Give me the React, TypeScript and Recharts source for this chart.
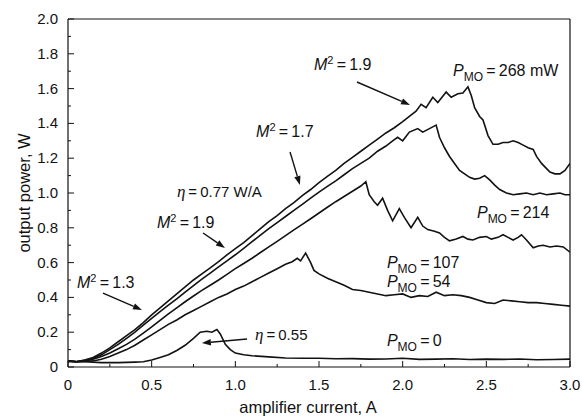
import React from "react";
import {
  LineChart,
  Line,
  XAxis,
  YAxis,
  ReferenceLine,
  ReferenceDot,
  Label,
} from "recharts";

// ticks
const xTicks = [0, 0.25, 0.5, 0.75, 1, 1.25, 1.5, 1.75, 2, 2.25, 2.5, 2.75, 3];
const yTicks = [
  0, 0.1, 0.2, 0.3, 0.4, 0.5, 0.6, 0.7, 0.8, 0.9, 1, 1.1, 1.2, 1.3, 1.4, 1.5,
  1.6, 1.7, 1.8, 1.9, 2,
];

// [amplifier current A, output power W]
const pmo0 = [
  [0, 0.035], [0.05, 0.03], [0.1, 0.03], [0.2, 0.025], [0.3, 0.025], [0.4, 0.028],
  [0.45, 0.03], [0.5, 0.04], [0.55, 0.055], [0.6, 0.07], [0.65, 0.095], [0.7, 0.125],
  [0.75, 0.165], [0.79, 0.2], [0.83, 0.205], [0.86, 0.2], [0.89, 0.215], [0.91, 0.19],
  [0.94, 0.13], [0.97, 0.1], [1.0, 0.08], [1.05, 0.07], [1.1, 0.065], [1.2, 0.058],
  [1.3, 0.052], [1.4, 0.05], [1.5, 0.05], [1.6, 0.047], [1.7, 0.048], [1.8, 0.045],
  [1.9, 0.046], [2.0, 0.05], [2.1, 0.044], [2.2, 0.045], [2.3, 0.047], [2.4, 0.043],
  [2.5, 0.045], [2.6, 0.044], [2.7, 0.046], [2.8, 0.042], [2.9, 0.043], [3.0, 0.045],
];

const pmo54 = [
  [0, 0.035], [0.05, 0.03], [0.1, 0.032], [0.15, 0.035], [0.2, 0.045], [0.25, 0.06],
  [0.3, 0.08], [0.35, 0.1], [0.4, 0.125], [0.45, 0.155], [0.5, 0.185], [0.55, 0.215],
  [0.6, 0.245], [0.65, 0.27], [0.7, 0.3], [0.75, 0.325], [0.8, 0.35], [0.85, 0.375],
  [0.9, 0.4], [0.95, 0.42], [1.0, 0.445], [1.05, 0.465], [1.1, 0.49], [1.15, 0.515],
  [1.2, 0.54], [1.25, 0.565], [1.3, 0.59], [1.34, 0.605], [1.37, 0.625], [1.39, 0.61],
  [1.42, 0.655], [1.45, 0.6], [1.47, 0.555], [1.5, 0.535], [1.55, 0.51], [1.6, 0.49],
  [1.65, 0.47], [1.7, 0.445], [1.75, 0.44], [1.8, 0.43], [1.85, 0.42], [1.9, 0.41],
  [1.95, 0.415], [2.0, 0.42], [2.05, 0.4], [2.1, 0.41], [2.15, 0.405], [2.2, 0.43],
  [2.25, 0.41], [2.3, 0.415], [2.35, 0.41], [2.4, 0.4], [2.45, 0.385], [2.5, 0.37],
  [2.55, 0.365], [2.6, 0.385], [2.65, 0.38], [2.7, 0.375], [2.75, 0.37], [2.8, 0.37],
  [2.85, 0.365], [2.9, 0.36], [2.95, 0.355], [3.0, 0.35],
];

const pmo107 = [
  [0, 0.03], [0.05, 0.03], [0.1, 0.035], [0.15, 0.045], [0.2, 0.06], [0.25, 0.08],
  [0.3, 0.105], [0.35, 0.13], [0.4, 0.16], [0.45, 0.195], [0.5, 0.23], [0.55, 0.268],
  [0.6, 0.305], [0.65, 0.34], [0.7, 0.375], [0.75, 0.408], [0.8, 0.44], [0.85, 0.47],
  [0.9, 0.5], [0.95, 0.532], [1.0, 0.565], [1.05, 0.595], [1.1, 0.625], [1.15, 0.658],
  [1.2, 0.69], [1.25, 0.722], [1.3, 0.755], [1.35, 0.788], [1.4, 0.82], [1.45, 0.852],
  [1.5, 0.885], [1.55, 0.918], [1.6, 0.95], [1.65, 0.98], [1.7, 1.01], [1.75, 1.04],
  [1.78, 1.065], [1.8, 0.99], [1.83, 0.95], [1.85, 0.93], [1.88, 0.97], [1.91, 0.9],
  [1.94, 0.84], [1.98, 0.91], [2.01, 0.86], [2.05, 0.8], [2.09, 0.86], [2.12, 0.81],
  [2.15, 0.79], [2.19, 0.78], [2.22, 0.77], [2.25, 0.745], [2.28, 0.725], [2.32, 0.735],
  [2.36, 0.75], [2.39, 0.735], [2.42, 0.73], [2.46, 0.745], [2.5, 0.75], [2.53, 0.735],
  [2.57, 0.745], [2.6, 0.76], [2.63, 0.745], [2.66, 0.73], [2.69, 0.745], [2.71, 0.76],
  [2.74, 0.73], [2.78, 0.685], [2.81, 0.695], [2.84, 0.7], [2.88, 0.69], [2.92, 0.695],
  [2.96, 0.69], [3.0, 0.66],
];

const pmo214 = [
  [0, 0.035], [0.05, 0.032], [0.1, 0.038], [0.15, 0.05], [0.2, 0.07], [0.25, 0.1],
  [0.3, 0.13], [0.35, 0.165], [0.4, 0.2], [0.45, 0.24], [0.5, 0.28], [0.55, 0.318],
  [0.6, 0.355], [0.65, 0.392], [0.7, 0.43], [0.75, 0.468], [0.8, 0.505], [0.85, 0.54],
  [0.9, 0.575], [0.95, 0.61], [1.0, 0.645], [1.05, 0.682], [1.1, 0.72], [1.15, 0.758],
  [1.2, 0.795], [1.25, 0.83], [1.3, 0.865], [1.35, 0.9], [1.4, 0.935], [1.45, 0.97],
  [1.5, 1.005], [1.55, 1.038], [1.6, 1.07], [1.65, 1.105], [1.7, 1.14], [1.75, 1.17],
  [1.8, 1.2], [1.85, 1.24], [1.9, 1.27], [1.94, 1.3], [1.97, 1.32], [2.0, 1.3],
  [2.04, 1.35], [2.09, 1.37], [2.12, 1.35], [2.16, 1.37], [2.2, 1.39], [2.22, 1.32],
  [2.25, 1.26], [2.28, 1.21], [2.31, 1.17], [2.34, 1.13], [2.37, 1.11], [2.4, 1.09],
  [2.43, 1.08], [2.46, 1.085], [2.49, 1.1], [2.52, 1.075], [2.55, 1.045], [2.58, 1.02],
  [2.62, 1.0], [2.66, 0.99], [2.7, 0.995], [2.74, 1.0], [2.78, 0.99], [2.82, 1.0],
  [2.86, 0.99], [2.9, 0.995], [2.94, 1.0], [2.97, 0.99], [3.0, 0.99],
];

const pmo268 = [
  [0, 0.035], [0.05, 0.03], [0.1, 0.04], [0.15, 0.055], [0.2, 0.08], [0.25, 0.11],
  [0.3, 0.145], [0.35, 0.18], [0.4, 0.215], [0.45, 0.255], [0.5, 0.3], [0.55, 0.34],
  [0.6, 0.38], [0.65, 0.42], [0.7, 0.46], [0.75, 0.5], [0.8, 0.535], [0.85, 0.57],
  [0.9, 0.605], [0.95, 0.645], [1.0, 0.68], [1.05, 0.715], [1.1, 0.755], [1.15, 0.795],
  [1.2, 0.835], [1.25, 0.87], [1.3, 0.91], [1.35, 0.945], [1.4, 0.985], [1.45, 1.02],
  [1.5, 1.06], [1.55, 1.095], [1.6, 1.13], [1.65, 1.17], [1.7, 1.205], [1.75, 1.24],
  [1.8, 1.275], [1.85, 1.31], [1.9, 1.345], [1.95, 1.375], [2.0, 1.41], [2.04, 1.44],
  [2.08, 1.47], [2.11, 1.51], [2.14, 1.49], [2.18, 1.55], [2.21, 1.52], [2.26, 1.58],
  [2.29, 1.55], [2.33, 1.57], [2.36, 1.575], [2.39, 1.61], [2.41, 1.56], [2.43, 1.49],
  [2.46, 1.44], [2.48, 1.42], [2.51, 1.33], [2.54, 1.28], [2.57, 1.28], [2.6, 1.29],
  [2.63, 1.29], [2.66, 1.3], [2.69, 1.29], [2.72, 1.275], [2.75, 1.26], [2.78, 1.25],
  [2.8, 1.21], [2.83, 1.17], [2.86, 1.14], [2.88, 1.12], [2.91, 1.11], [2.94, 1.11],
  [2.97, 1.13], [3.0, 1.17],
];

// annotation text anchors (data coords) and arrows
const texts = [
  { kind: "m2", v: "1.9", x: 1.47, y: 1.707 },
  { kind: "m2", v: "1.7", x: 1.124, y: 1.322 },
  { kind: "eta", v: "0.77 W/A", x: 0.651, y: 0.977 },
  { kind: "m2", v: "1.9", x: 0.532, y: 0.799 },
  { kind: "m2", v: "1.3", x: 0.054, y: 0.454 },
  { kind: "eta", v: "0.55", x: 1.118, y: 0.155 },
  { kind: "pmo", v: "268 mW", x: 2.301, y: 1.672 },
  { kind: "pmo", v: "214", x: 2.444, y: 0.856 },
  { kind: "pmo", v: "107", x: 1.906, y: 0.568 },
  { kind: "pmo", v: "54", x: 1.906, y: 0.459 },
  { kind: "pmo", v: "0", x: 1.906, y: 0.12 },
];

const arrows = [
  [1.727, 1.638, 2.044, 1.506],
  [1.327, 1.236, 1.386, 1.046],
  [0.807, 0.77, 0.938, 0.684],
  [0.209, 0.425, 0.442, 0.328],
  [1.07, 0.161, 0.8, 0.138],
];

const series = [pmo0, pmo54, pmo107, pmo214, pmo268];

const INK = "#121212";
const FONT = '"Liberation Sans", Arial, Helvetica, sans-serif';

const rows = (pts: number[][]) => pts.map(([i, p]) => ({ i, p }));

const isMajorX = (v: number) => Math.abs(v * 2 - Math.round(v * 2)) < 1e-6;
const isMajorY = (v: number) => Math.abs(v * 5 - Math.round(v * 5)) < 1e-6;

const BottomTick = ({ x, y, payload }: any) => {
  const v = payload.value;
  const major = isMajorX(v);
  return (
    <g>
      <line x1={x} y1={y} x2={x} y2={y - (major ? 6 : 3)} stroke={INK} />
      {major && (
        <text x={x} y={y + 23} textAnchor="middle" fontSize={15} fill={INK} fontFamily={FONT}>
          {v === 0 ? "0" : v.toFixed(1)}
        </text>
      )}
    </g>
  );
};

const TopTick = ({ x, y, payload }: any) => (
  <line x1={x} y1={y} x2={x} y2={y + (isMajorX(payload.value) ? 6 : 3)} stroke={INK} />
);

const LeftTick = ({ x, y, payload }: any) => {
  const v = payload.value;
  const major = isMajorY(v);
  return (
    <g>
      <line x1={x} y1={y} x2={x + (major ? 6 : 3)} y2={y} stroke={INK} />
      {major && (
        <text x={x - 10} y={y + 5} textAnchor="end" fontSize={15} fill={INK} fontFamily={FONT}>
          {v === 0 ? "0" : v.toFixed(1)}
        </text>
      )}
    </g>
  );
};

const RightTick = ({ x, y, payload }: any) => (
  <line x1={x} y1={y} x2={x - (isMajorY(payload.value) ? 6 : 3)} y2={y} stroke={INK} />
);

const Arrow = (props: any) => {
  const { x1, y1, x2, y2 } = props;
  const a = Math.atan2(y2 - y1, x2 - x1);
  const c = Math.cos(a);
  const s = Math.sin(a);
  const L = 9;
  const W = 3.2;
  const bx = x2 - L * c;
  const by = y2 - L * s;
  return (
    <g>
      <line x1={x1} y1={y1} x2={bx} y2={by} stroke={INK} strokeWidth={1.4} />
      <polygon
        points={`${x2},${y2} ${bx - s * W},${by + c * W} ${bx + s * W},${by - c * W}`}
        fill={INK}
      />
    </g>
  );
};

const Note = ({ kind, v }: { kind: string; v: string }) => (props: any) => {
  const { cx, cy } = props;
  if (kind === "m2") {
    return (
      <text x={cx} y={cy} fontSize={16} fill={INK} fontFamily={FONT}>
        <tspan fontStyle="italic">M</tspan>
        <tspan fontSize={11} dy={-6}>2</tspan>
        <tspan dy={6}>{"\u2009=\u2009" + v}</tspan>
      </text>
    );
  }
  if (kind === "eta") {
    return (
      <text x={cx} y={cy} fontSize={15} fill={INK} fontFamily={FONT}>
        <tspan fontStyle="italic" fontFamily='"Liberation Serif", serif' fontSize={17}>
          η
        </tspan>
        <tspan>{"\u2009=\u2009" + v}</tspan>
      </text>
    );
  }
  return (
    <text x={cx} y={cy} fontSize={16} fill={INK} fontFamily={FONT}>
      <tspan fontStyle="italic" fontSize={16}>P</tspan>
      <tspan fontSize={12} dy={5}>MO</tspan>
      <tspan dy={-5}>{"\u2009=\u2009" + v}</tspan>
    </text>
  );
};

export default function App() {
  return (
    <div style={{ position: "absolute", left: 0, top: 0, background: "#fff" }}>
      <LineChart
        width={582}
        height={420}
        margin={{ top: 18, right: 0, bottom: 0, left: 0 }}
      >
        <XAxis
          dataKey="i"
          type="number"
          domain={[0, 3]}
          ticks={xTicks}
          interval={0}
          allowDataOverflow
          height={53}
          tickSize={0}
          tickMargin={0}
          tickLine={false}
          tick={<BottomTick />}
          axisLine={{ stroke: INK, strokeWidth: 1.2 }}
        >
          <Label
            content={({ viewBox }: any) => (
              <text
                x={viewBox.x + viewBox.width / 2 - 11}
                y={viewBox.y + 46}
                textAnchor="middle"
                fontSize={16.5}
                fill={INK}
                fontFamily={FONT}
              >
                amplifier current, A
              </text>
            )}
          />
        </XAxis>
        <XAxis
          xAxisId="top"
          orientation="top"
          dataKey="i"
          type="number"
          domain={[0, 3]}
          ticks={xTicks}
          interval={0}
          height={1}
          tickSize={0}
          tickMargin={0}
          tickLine={false}
          tick={<TopTick />}
          axisLine={{ stroke: INK, strokeWidth: 1.2 }}
        />
        <YAxis
          type="number"
          domain={[0, 2]}
          ticks={yTicks}
          interval={0}
          allowDataOverflow
          width={68}
          tickSize={0}
          tickMargin={0}
          tickLine={false}
          tick={<LeftTick />}
          axisLine={{ stroke: INK, strokeWidth: 1.2 }}
        >
          <Label
            content={({ viewBox }: any) => {
              const cx = 30;
              const cy = viewBox.y + viewBox.height / 2;
              return (
                <text
                  x={cx}
                  y={cy}
                  transform={`rotate(-90, ${cx}, ${cy})`}
                  textAnchor="middle"
                  fontSize={16.5}
                  fill={INK}
                  fontFamily={FONT}
                >
                  output power, W
                </text>
              );
            }}
          />
        </YAxis>
        <YAxis
          yAxisId="right"
          orientation="right"
          type="number"
          domain={[0, 2]}
          ticks={yTicks}
          interval={0}
          width={12}
          tickSize={0}
          tickMargin={0}
          tickLine={false}
          tick={<RightTick />}
          axisLine={{ stroke: INK, strokeWidth: 1.2 }}
        />

        {series.map((s, k) => (
          <Line
            key={k}
            data={rows(s)}
            dataKey="p"
            type="linear"
            stroke={INK}
            strokeWidth={1.6}
            dot={false}
            activeDot={false}
            isAnimationActive={false}
          />
        ))}

        {arrows.map(([a, b, c, d], k) => (
          <ReferenceLine
            key={"a" + k}
            segment={[
              { x: a, y: b },
              { x: c, y: d },
            ]}
            ifOverflow="visible"
            shape={Arrow}
          />
        ))}

        {texts.map((t, k) => (
          <ReferenceDot
            key={"t" + k}
            x={t.x}
            y={t.y}
            r={0}
            ifOverflow="visible"
            shape={Note(t)}
          />
        ))}
      </LineChart>
    </div>
  );
}
